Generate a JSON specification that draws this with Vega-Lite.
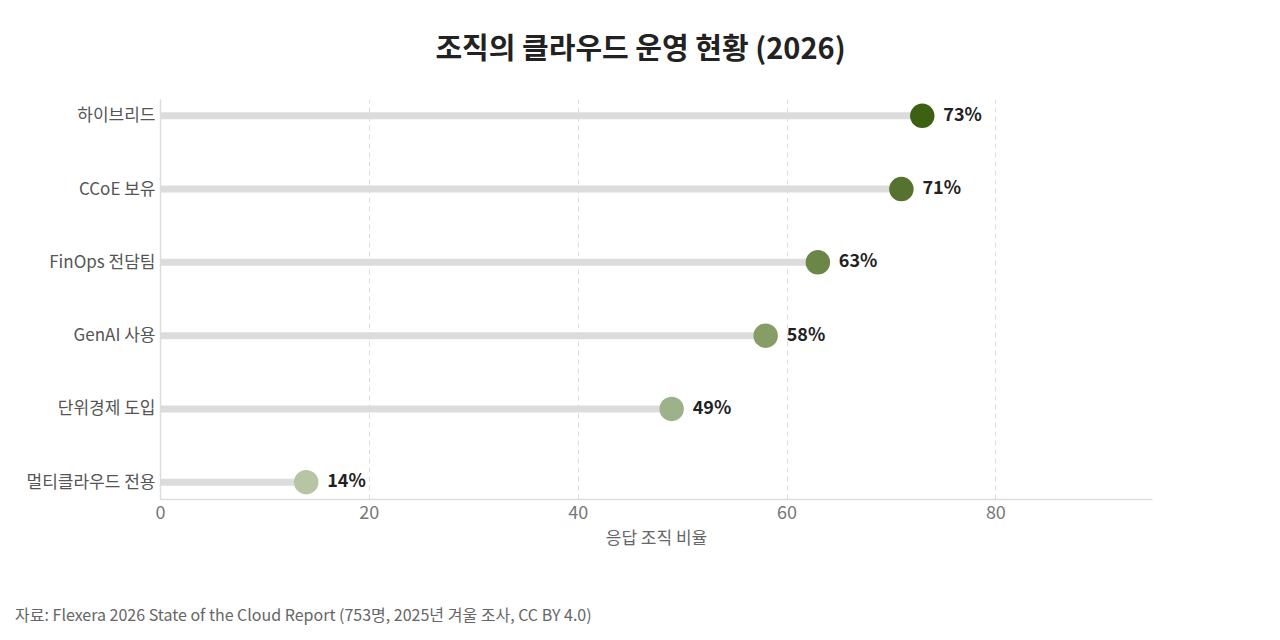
{
  "$schema": "https://vega.github.io/schema/vega-lite/v6.json",
  "background": "white",
  "autosize": {"type": "pad"},
  "padding": {"left": 15, "top": 36, "right": 20, "bottom": 12},
  "title": {
    "text": "조직의 클라우드 운영 현황 (2026)",
    "fontSize": 29,
    "fontWeight": "bold",
    "color": "#222222",
    "font": "Noto Sans CJK KR",
    "anchor": "middle",
    "dx": 57,
    "offset": 34
  },
  "config": {
    "font": "Noto Sans CJK KR",
    "view": {"stroke": null}
  },
  "vconcat": [
    {
      "title": {
        "text": "자료: Flexera 2026 State of the Cloud Report (753명, 2025년 겨울 조사, CC BY 4.0)",
        "orient": "bottom",
        "anchor": "start",
        "frame": "bounds",
        "fontSize": 16,
        "fontWeight": "normal",
        "color": "#666666",
        "dx": -11,
        "offset": 62
      },
      "width": 992,
      "height": 400,
      "data": {
        "values": [
          {"item": "하이브리드", "value": 73, "label": "73%"},
          {"item": "CCoE 보유", "value": 71, "label": "71%"},
          {"item": "FinOps 전담팀", "value": 63, "label": "63%"},
          {"item": "GenAI 사용", "value": 58, "label": "58%"},
          {"item": "단위경제 도입", "value": 49, "label": "49%"},
          {"item": "멀티클라우드 전용", "value": 14, "label": "14%"}
        ]
      },
      "encoding": {
        "y": {
          "field": "item",
          "type": "nominal",
          "sort": null,
          "scale": {"type": "point", "padding": 0.23},
          "axis": {
            "title": null,
            "ticks": false,
            "labelFontSize": 17,
            "labelColor": "#555555",
            "labelPadding": 5,
            "domainColor": "#dddddd",
            "domainWidth": 1.5,
            "grid": false
          }
        }
      },
      "layer": [
        {
          "mark": {"type": "rule", "strokeWidth": 7, "color": "#dcdcdc"},
          "encoding": {
            "x": {
              "field": "value",
              "type": "quantitative",
              "scale": {"domain": [0, 95], "nice": false},
              "axis": {
                "title": "응답 조직 비율",
                "titleFontSize": 17,
                "titleFontWeight": "normal",
                "titleColor": "#666666",
                "titlePadding": 8,
                "values": [0, 20, 40, 60, 80],
                "ticks": false,
                "labelFlush": false,
                "labelFontSize": 18,
                "labelColor": "#777777",
                "labelPadding": 5,
                "domainColor": "#dddddd",
                "domainWidth": 1.5,
                "grid": true,
                "gridColor": "#dddddd",
                "gridDash": [5, 4],
                "gridWidth": 1
              }
            },
            "x2": {"datum": 0}
          }
        },
        {
          "mark": {"type": "point", "filled": true, "opacity": 1, "size": 600},
          "encoding": {
            "x": {"field": "value", "type": "quantitative"},
            "color": {
              "field": "item",
              "type": "nominal",
              "sort": null,
              "legend": null,
              "scale": {
                "domain": ["하이브리드", "CCoE 보유", "FinOps 전담팀", "GenAI 사용", "단위경제 도입", "멀티클라우드 전용"],
                "range": ["#3d6113", "#56722f", "#6c8648", "#869d66", "#9db18a", "#b7c5a4"]
              }
            }
          }
        },
        {
          "mark": {"type": "text", "align": "left", "baseline": "middle", "dx": 21, "fontSize": 18, "fontWeight": "bold", "color": "#222222"},
          "encoding": {
            "x": {"field": "value", "type": "quantitative"},
            "text": {"field": "label"}
          }
        }
      ]
    }
  ]
}
